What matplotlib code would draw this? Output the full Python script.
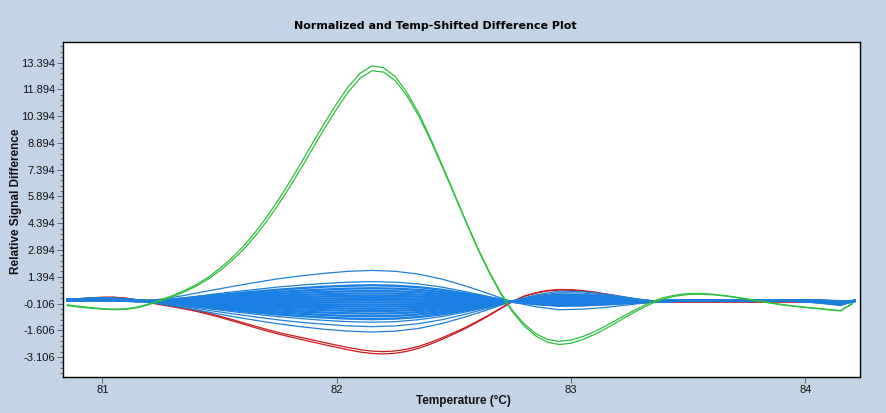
import matplotlib
matplotlib.use("Agg")
import matplotlib.pyplot as plt
from matplotlib.ticker import FixedLocator, MultipleLocator

# ---------------- data ----------------
# fine temperature grid (green and red curves)
temperature_fine = [80.85, 80.90, 80.95, 81.00, 81.05, 81.10, 81.15, 81.20, 81.25, 81.30,
                    81.35, 81.40, 81.45, 81.50, 81.55, 81.60, 81.65, 81.70, 81.75, 81.80,
                    81.85, 81.90, 81.95, 82.00, 82.05, 82.10, 82.15, 82.20, 82.25, 82.30,
                    82.35, 82.40, 82.45, 82.50, 82.55, 82.60, 82.65, 82.70, 82.75, 82.80,
                    82.85, 82.90, 82.95, 83.00, 83.05, 83.10, 83.15, 83.20, 83.25, 83.30,
                    83.35, 83.40, 83.45, 83.50, 83.55, 83.60, 83.65, 83.70, 83.75, 83.80,
                    83.85, 83.90, 83.95, 84.00, 84.05, 84.10, 84.15, 84.20]

green_1 = [-0.18, -0.26, -0.33, -0.39, -0.42, -0.40, -0.30, -0.12, 0.10, 0.34,
           0.62, 0.95, 1.35, 1.85, 2.42, 3.08, 3.85, 4.72, 5.68, 6.72,
           7.82, 8.95, 10.05, 11.10, 12.05, 12.80, 13.20, 13.10, 12.60, 11.70,
           10.55, 9.15, 7.65, 6.10, 4.55, 3.05, 1.70, 0.50, -0.50, -1.25,
           -1.80, -2.12, -2.22, -2.15, -1.95, -1.68, -1.35, -0.98, -0.62, -0.28,
           0.02, 0.24, 0.38, 0.45, 0.46, 0.42, 0.35, 0.26, 0.16, 0.05,
           -0.06, -0.16, -0.24, -0.31, -0.37, -0.44, -0.50, -0.10]
green_2 = [-0.22, -0.30, -0.37, -0.42, -0.45, -0.43, -0.34, -0.16, 0.05, 0.28,
           0.55, 0.87, 1.25, 1.72, 2.27, 2.90, 3.64, 4.48, 5.42, 6.44,
           7.52, 8.64, 9.74, 10.80, 11.76, 12.52, 12.93, 12.86, 12.38, 11.52,
           10.40, 9.04, 7.56, 6.04, 4.50, 3.00, 1.64, 0.43, -0.58, -1.36,
           -1.93, -2.28, -2.40, -2.33, -2.12, -1.84, -1.50, -1.12, -0.74, -0.38,
           -0.07, 0.17, 0.32, 0.40, 0.42, 0.39, 0.33, 0.24, 0.14, 0.03,
           -0.08, -0.18, -0.26, -0.33, -0.39, -0.46, -0.52, -0.12]

red_1 = [0.08, 0.15, 0.21, 0.25, 0.25, 0.20, 0.10, -0.03, -0.15, -0.25,
         -0.36, -0.49, -0.64, -0.81, -0.99, -1.18, -1.37, -1.55, -1.72, -1.87,
         -2.01, -2.15, -2.30, -2.44, -2.57, -2.69, -2.77, -2.80, -2.76, -2.66,
         -2.50, -2.28, -2.02, -1.74, -1.44, -1.10, -0.74, -0.36, 0.02, 0.30,
         0.48, 0.60, 0.65, 0.64, 0.59, 0.51, 0.41, 0.30, 0.19, 0.09,
         0.02, -0.01, -0.02, -0.02, -0.02, -0.02, -0.02, -0.02, -0.02, -0.02,
         -0.02, -0.02, -0.02, -0.02, -0.05, -0.07, -0.08, -0.02]
red_2 = [0.06, 0.13, 0.19, 0.23, 0.24, 0.19, 0.08, -0.06, -0.18, -0.29,
         -0.41, -0.54, -0.70, -0.87, -1.06, -1.25, -1.45, -1.64, -1.81, -1.97,
         -2.12, -2.27, -2.42, -2.56, -2.70, -2.82, -2.90, -2.93, -2.89, -2.78,
         -2.61, -2.38, -2.11, -1.81, -1.50, -1.15, -0.78, -0.39, 0.00, 0.31,
         0.50, 0.63, 0.68, 0.67, 0.62, 0.54, 0.43, 0.32, 0.20, 0.10,
         0.03, -0.01, -0.02, -0.02, -0.02, -0.02, -0.02, -0.02, -0.02, -0.02,
         -0.02, -0.02, -0.02, -0.02, -0.05, -0.07, -0.08, -0.02]

# coarse temperature grid (blue bundle)
temperature = [80.85, 80.95, 81.05, 81.15, 81.25, 81.35, 81.45, 81.55, 81.65, 81.75,
               81.85, 81.95, 82.05, 82.15, 82.25, 82.35, 82.45, 82.55, 82.65, 82.75,
               82.85, 82.95, 83.05, 83.15, 83.25, 83.35, 83.45, 83.55, 83.65, 83.75,
               83.85, 83.95, 84.05, 84.15, 84.21]

blue_01 = [0.03, 0.03, 0.03, 0.00, 0.14, 0.35, 0.60, 0.84, 1.07, 1.28, 1.45, 1.59, 1.70, 1.75, 1.70, 1.54, 1.26, 0.88, 0.44,
           -0.02, -0.29, -0.45, -0.42, -0.32, -0.17, -0.02, 0.03, 0.03, 0.03, 0.03, 0.03, 0.03, -0.07, -0.22, 0.04]
blue_02 = [0.05, 0.06, 0.06, 0.02, 0.09, 0.22, 0.38, 0.54, 0.68, 0.82, 0.93, 1.02, 1.09, 1.12, 1.09, 0.99, 0.81, 0.56, 0.28,
           -0.01, -0.17, -0.26, -0.24, -0.18, -0.10, -0.01, 0.04, 0.04, 0.04, 0.04, 0.04, 0.04, -0.04, -0.17, 0.04]
blue_03 = [0.05, 0.07, 0.07, 0.02, 0.07, 0.18, 0.31, 0.44, 0.56, 0.67, 0.76, 0.84, 0.89, 0.92, 0.89, 0.81, 0.66, 0.46, 0.23,
           -0.01, -0.13, -0.20, -0.19, -0.14, -0.07, -0.01, 0.04, 0.04, 0.04, 0.04, 0.04, 0.04, -0.03, -0.15, 0.04]
blue_04 = [0.06, 0.08, 0.08, 0.03, 0.06, 0.15, 0.26, 0.36, 0.46, 0.55, 0.62, 0.68, 0.73, 0.75, 0.73, 0.66, 0.54, 0.38, 0.19,
           -0.01, -0.09, -0.15, -0.14, -0.10, -0.06, -0.01, 0.05, 0.05, 0.05, 0.05, 0.05, 0.05, -0.02, -0.14, 0.04]
blue_05 = [0.06, 0.09, 0.09, 0.03, 0.05, 0.12, 0.20, 0.29, 0.37, 0.44, 0.50, 0.55, 0.58, 0.60, 0.58, 0.53, 0.43, 0.30, 0.15,
           -0.01, -0.07, -0.10, -0.10, -0.07, -0.04, -0.01, 0.05, 0.05, 0.05, 0.05, 0.05, 0.05, -0.01, -0.13, 0.04]
blue_06 = [0.07, 0.10, 0.10, 0.04, 0.04, 0.09, 0.16, 0.22, 0.28, 0.34, 0.38, 0.42, 0.45, 0.46, 0.45, 0.40, 0.33, 0.23, 0.12,
           0.00, -0.04, -0.06, -0.06, -0.04, -0.02, 0.00, 0.05, 0.05, 0.05, 0.05, 0.05, 0.05, 0.00, -0.12, 0.04]
blue_07 = [0.07, 0.10, 0.10, 0.04, 0.03, 0.07, 0.11, 0.16, 0.20, 0.24, 0.27, 0.30, 0.32, 0.33, 0.32, 0.29, 0.24, 0.17, 0.08,
           0.00, -0.01, -0.02, -0.02, -0.01, -0.01, 0.00, 0.05, 0.05, 0.05, 0.05, 0.05, 0.05, 0.00, -0.11, 0.04]
blue_08 = [0.07, 0.11, 0.11, 0.04, 0.02, 0.04, 0.07, 0.10, 0.12, 0.15, 0.17, 0.18, 0.19, 0.20, 0.19, 0.18, 0.14, 0.10, 0.05,
           0.00, 0.01, 0.02, 0.02, 0.01, 0.01, 0.00, 0.06, 0.06, 0.06, 0.06, 0.06, 0.06, 0.01, -0.10, 0.04]
blue_09 = [0.08, 0.12, 0.12, 0.05, 0.01, 0.02, 0.03, 0.04, 0.05, 0.06, 0.07, 0.07, 0.08, 0.08, 0.08, 0.07, 0.06, 0.04, 0.02,
           0.00, 0.04, 0.06, 0.05, 0.04, 0.02, 0.00, 0.06, 0.06, 0.06, 0.06, 0.06, 0.06, 0.02, -0.09, 0.04]
blue_10 = [0.08, 0.12, 0.12, 0.05, 0.00, -0.01, -0.01, -0.02, -0.02, -0.03, -0.03, -0.04, -0.04, -0.04, -0.04, -0.04, -0.03, -0.02, -0.01,
           0.00, 0.06, 0.09, 0.09, 0.07, 0.03, 0.00, 0.06, 0.06, 0.06, 0.06, 0.06, 0.06, 0.02, -0.08, 0.04]
blue_11 = [0.09, 0.13, 0.13, 0.05, -0.01, -0.03, -0.05, -0.08, -0.10, -0.12, -0.13, -0.15, -0.16, -0.16, -0.16, -0.14, -0.12, -0.08, -0.04,
           0.01, 0.08, 0.13, 0.12, 0.09, 0.05, 0.01, 0.06, 0.06, 0.06, 0.06, 0.06, 0.06, 0.03, -0.07, 0.04]
blue_12 = [0.09, 0.13, 0.13, 0.06, -0.02, -0.06, -0.10, -0.13, -0.17, -0.20, -0.23, -0.25, -0.27, -0.28, -0.27, -0.25, -0.20, -0.14, -0.07,
           0.01, 0.11, 0.16, 0.16, 0.12, 0.06, 0.01, 0.07, 0.07, 0.07, 0.07, 0.07, 0.07, 0.03, -0.06, 0.04]
blue_13 = [0.09, 0.14, 0.14, 0.06, -0.03, -0.08, -0.14, -0.19, -0.24, -0.29, -0.33, -0.36, -0.39, -0.40, -0.39, -0.35, -0.29, -0.20, -0.10,
           0.01, 0.13, 0.20, 0.19, 0.14, 0.08, 0.01, 0.07, 0.07, 0.07, 0.07, 0.07, 0.07, 0.04, -0.05, 0.04]
blue_14 = [0.10, 0.15, 0.15, 0.07, -0.04, -0.11, -0.18, -0.25, -0.32, -0.39, -0.44, -0.48, -0.51, -0.53, -0.51, -0.47, -0.38, -0.27, -0.13,
           0.01, 0.16, 0.24, 0.23, 0.17, 0.09, 0.01, 0.07, 0.07, 0.07, 0.07, 0.07, 0.07, 0.05, -0.04, 0.04]
blue_15 = [0.10, 0.15, 0.15, 0.07, -0.05, -0.13, -0.23, -0.32, -0.41, -0.49, -0.56, -0.61, -0.65, -0.67, -0.65, -0.59, -0.48, -0.34, -0.17,
           0.01, 0.18, 0.28, 0.27, 0.20, 0.11, 0.01, 0.07, 0.07, 0.07, 0.07, 0.07, 0.07, 0.05, -0.03, 0.04]
blue_16 = [0.10, 0.16, 0.16, 0.08, -0.07, -0.16, -0.28, -0.39, -0.50, -0.60, -0.68, -0.75, -0.80, -0.82, -0.80, -0.72, -0.59, -0.41, -0.21,
           0.02, 0.21, 0.33, 0.31, 0.23, 0.12, 0.02, 0.08, 0.08, 0.08, 0.08, 0.08, 0.08, 0.06, -0.01, 0.04]
blue_17 = [0.11, 0.17, 0.17, 0.08, -0.08, -0.20, -0.33, -0.47, -0.60, -0.72, -0.81, -0.89, -0.95, -0.98, -0.95, -0.86, -0.71, -0.49, -0.25,
           0.02, 0.24, 0.37, 0.36, 0.27, 0.14, 0.02, 0.08, 0.08, 0.08, 0.08, 0.08, 0.08, 0.07, 0.00, 0.04]
blue_18 = [0.11, 0.18, 0.18, 0.08, -0.09, -0.23, -0.39, -0.55, -0.70, -0.84, -0.95, -1.05, -1.12, -1.15, -1.12, -1.01, -0.83, -0.58, -0.29,
           0.02, 0.28, 0.43, 0.40, 0.31, 0.16, 0.02, 0.08, 0.08, 0.08, 0.08, 0.08, 0.08, 0.08, 0.01, 0.04]
blue_19 = [0.12, 0.19, 0.19, 0.09, -0.11, -0.28, -0.48, -0.67, -0.85, -1.02, -1.16, -1.27, -1.36, -1.40, -1.36, -1.23, -1.01, -0.70, -0.35,
           0.03, 0.33, 0.50, 0.48, 0.36, 0.19, 0.03, 0.09, 0.09, 0.09, 0.09, 0.09, 0.09, 0.09, 0.03, 0.04]
blue_20 = [0.13, 0.21, 0.21, 0.10, -0.14, -0.34, -0.58, -0.82, -1.04, -1.24, -1.41, -1.55, -1.65, -1.70, -1.65, -1.50, -1.22, -0.85, -0.43,
           0.03, 0.38, 0.59, 0.56, 0.42, 0.22, 0.03, 0.09, 0.09, 0.09, 0.09, 0.09, 0.09, 0.11, 0.06, 0.04]

blue_outer = [blue_01, blue_02, blue_18, blue_19, blue_20]
blue_inner = [blue_03, blue_04, blue_05, blue_06, blue_07, blue_08, blue_09, blue_10,
              blue_11, blue_12, blue_13, blue_14, blue_15, blue_16, blue_17]

x_ticks = [81, 82, 83, 84]
x_tick_labels = ["81", "82", "83", "84"]
y_ticks = [-3.106, -1.606, -0.106, 1.394, 2.894, 4.394, 5.894, 7.394, 8.894, 10.394, 11.894, 13.394]
y_tick_labels = ["-3.106", "-1.606", "-0.106", "1.394", "2.894", "4.394", "5.894",
                 "7.394", "8.894", "10.394", "11.894", "13.394"]

title = "Normalized and Temp-Shifted Difference Plot"
x_label = "Temperature (°C)"
y_label = "Relative Signal Difference"

# ---------------- figure ----------------
BG = "#C3D4E6"
W, H = 887, 413
fig = plt.figure(figsize=(W / 100, H / 100), dpi=100, facecolor=BG)
ax = fig.add_axes([63.3 / W, (H - 377.0) / H, (860.0 - 63.3) / W, (377.0 - 41.7) / H])
ax.set_facecolor("white")

for c in (red_1, red_2):
    ax.plot(temperature_fine, c, color="#c81a1e", lw=0.9, zorder=2)
for c in blue_inner:
    ax.plot(temperature, c, color="#1a7fe3", lw=1.7, zorder=3)
for c in blue_outer:
    ax.plot(temperature, c, color="#1f7fd8", lw=0.9, zorder=3)
for c in (green_1, green_2):
    ax.plot(temperature_fine, c, color="#2fbf3f", lw=0.9, zorder=4)

ax.set_xlim(80.833, 84.233)
ax.set_ylim(-4.22, 14.56)

ax.xaxis.set_major_locator(FixedLocator(x_ticks))
ax.set_xticklabels(x_tick_labels)
ax.yaxis.set_major_locator(FixedLocator(y_ticks))
ax.set_yticklabels(y_tick_labels)
ax.yaxis.set_minor_locator(MultipleLocator(0.3, offset=-0.106))

for lab in ax.get_xticklabels() + ax.get_yticklabels():
    lab.set_family("Liberation Sans")
    lab.set_fontsize(8)
    lab.set_color("#111111")

ax.tick_params(axis="both", which="major", direction="out", length=4, width=0.6, pad=2, color="#555555")
ax.tick_params(axis="y", which="minor", direction="out", length=2, width=0.6, color="#555555")
for s in ax.spines.values():
    s.set_linewidth(1.0)
    s.set_color("black")

fig.text(435 / W, (H - 26) / H, title, ha="center", va="center",
         fontsize=8, fontweight="bold", family="DejaVu Sans", color="black")
fig.text(463 / W, (H - 401) / H, x_label, ha="center", va="center",
         fontsize=8.5, fontweight="bold", family="Liberation Sans", color="#111111")
fig.text(16 / W, (H - 201) / H, y_label, ha="center", va="center", rotation=90,
         fontsize=8.5, fontweight="bold", family="Liberation Sans", color="#111111")

fig.savefig("out.png", dpi=100, facecolor=BG)
